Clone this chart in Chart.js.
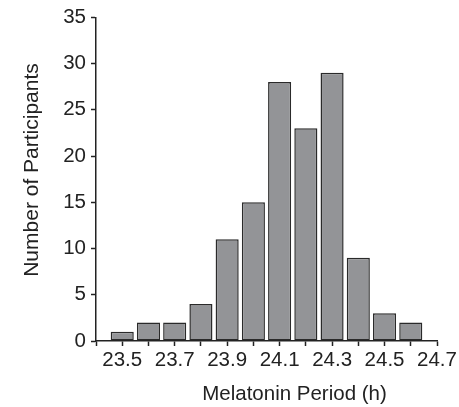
<!DOCTYPE html>
<html>
<head>
<meta charset="utf-8">
<script src="https://cdn.jsdelivr.net/npm/chart.js@4"></script>
<style>
  body { margin: 0; background: #fff; }
  #wrap { width: 459px; height: 407px; position: relative; }
</style>
</head>
<body>
<div id="wrap"><canvas id="chart"></canvas></div>
<script>
// melatonin period bins (h), bar centres
const binCenters = [23.5, 23.6, 23.7, 23.8, 23.9, 24.0, 24.1, 24.2, 24.3, 24.4, 24.5, 24.6];
const participants = [1, 2, 2, 4, 11, 15, 28, 23, 29, 9, 3, 2];
const xLabeled = [23.5, 23.7, 23.9, 24.1, 24.3, 24.5, 24.7];
const xTitle = "Melatonin Period (h)";
const yTitle = "Number of Participants";

const FONT = "Arial, 'Liberation Sans', sans-serif";
const INK = "#222";

const titlesPlugin = {
    id: "titles",
    afterDraw(chart) {
        const ctx = chart.ctx;
        ctx.save();
        ctx.fillStyle = INK;
        ctx.textAlign = "center";
        ctx.textBaseline = "alphabetic";
        ctx.font = "20.5px " + FONT;
        ctx.fillText(xTitle, 294.5, 400);
        ctx.translate(32, 170);
        ctx.rotate(-Math.PI / 2);
        ctx.textBaseline = "middle";
        ctx.font = "21px " + FONT;
        ctx.fillText(yTitle, 0, 0);
        ctx.restore();
    }
};

new Chart(document.getElementById("chart"), {
    type: "bar",
    data: {
        datasets: [{
            data: binCenters.map((x, i) => ({ x: x, y: participants[i] })),
            backgroundColor: "#939497",
            borderColor: "#2a2a2a",
            borderWidth: 1.5,
            borderSkipped: false,
            barPercentage: 0.88,
            categoryPercentage: 1
        }]
    },
    options: {
        responsive: true,
        maintainAspectRatio: false,
        animation: false,
        layout: { padding: { left: 0, top: 17, right: 22, bottom: 0 } },
        plugins: {
            legend: { display: false },
            tooltip: { enabled: false }
        },
        scales: {
            x: {
                type: "linear",
                min: 23.4,
                max: 24.7,
                offset: false,
                grid: { offset: false, drawOnChartArea: false, drawTicks: true, tickLength: 5, tickColor: INK, tickWidth: 1.5 },
                border: { display: true, color: INK, width: 1.5 },
                ticks: {
                    stepSize: 0.1,
                    autoSkip: false,
                    maxRotation: 0,
                    padding: 2,
                    color: INK,
                    font: { family: FONT, size: 20.5 },
                    callback: (v) => {
                        const r = Math.round(v * 10) / 10;
                        return xLabeled.some(t => Math.abs(t - r) < 1e-6) ? r.toFixed(1) : "";
                    }
                },
                afterFit: (s) => { s.height = 407 - 341; }
            },
            y: {
                min: 0,
                max: 35,
                grid: { drawOnChartArea: false, drawTicks: true, tickLength: 5, tickColor: INK, tickWidth: 1.5 },
                border: { display: true, color: INK, width: 1.5 },
                ticks: {
                    stepSize: 5,
                    padding: 5,
                    color: INK,
                    font: { family: FONT, size: 20.5 }
                },
                afterFit: (s) => { s.width = 96; }
            }
        }
    },
    plugins: [titlesPlugin]
});
</script>
</body>
</html>
